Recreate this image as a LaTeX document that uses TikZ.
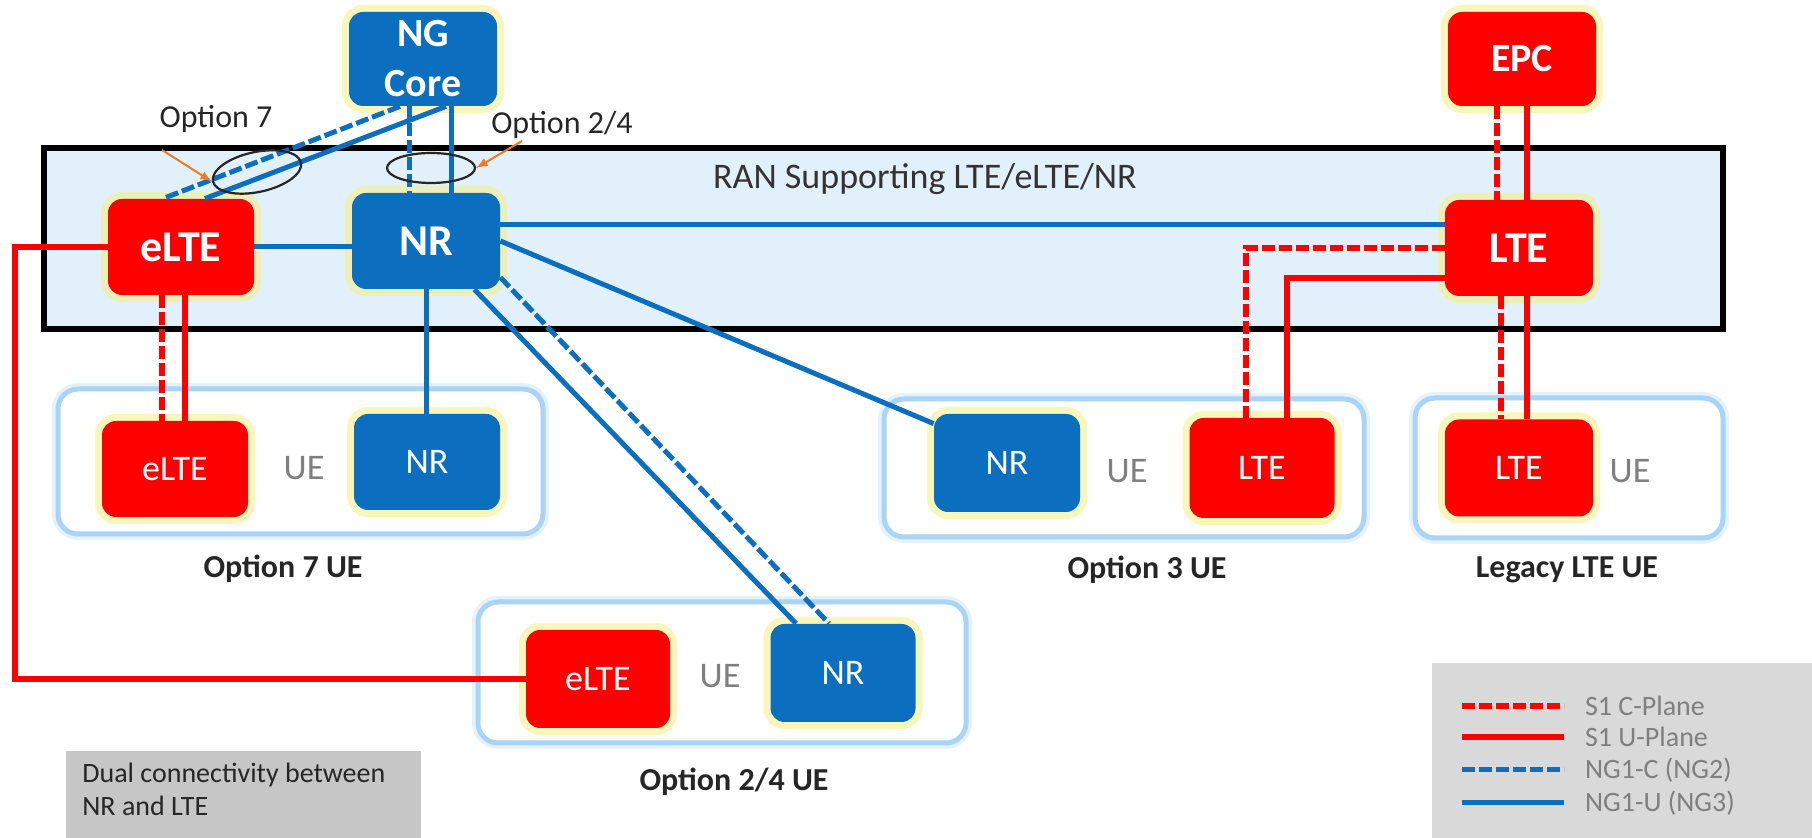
\documentclass[tikz,border=0pt]{standalone}
\usepackage{fontspec}
\setmainfont{Carlito}
\usepackage{tikz}
\usetikzlibrary{shapes.geometric}

\definecolor{lteRed}{HTML}{FF0000}
\definecolor{nrBlue}{HTML}{0B6EBE}
\definecolor{ranFill}{HTML}{E2F0FB}
\definecolor{ueRim}{HTML}{A9D4F6}
\definecolor{glowYellow}{HTML}{F4F08C}
\definecolor{labelGray}{HTML}{7F7F7F}
\definecolor{noteGray}{HTML}{C6C6C6}
\definecolor{legendGray}{HTML}{D9D9D9}
\definecolor{arrowOrange}{HTML}{F07A22}

\begin{document}
\begin{tikzpicture}[x=0.5pt,y=-0.5pt,
	netbox/.style={rounded corners=7pt, text=white, inner sep=0pt, align=center,
		preaction={draw=glowYellow, line width=7pt, opacity=0.6}},
	ltebox/.style={netbox, fill=lteRed},
	nrbox/.style={netbox, fill=nrBlue},
	ranfont/.style={font=\fontsize{22}{26}\selectfont\bfseries},
	uefont/.style={font=\fontsize{18}{22}\selectfont},
	uegroup/.style={draw=ueRim, line width=2.5pt, fill=white, rounded corners=10pt,
		preaction={draw=ueRim!50, line width=6pt, opacity=0.6}},
	uetag/.style={text=labelGray, font=\fontsize{18}{22}\selectfont},
	caption/.style={text=black!85, font=\fontsize{16}{19}\selectfont\bfseries},
	s1c/.style={lteRed, line width=3pt, dash pattern=on 6.5pt off 2pt},
	s1u/.style={lteRed, line width=3pt},
	ngc/.style={nrBlue, line width=2.5pt, dash pattern=on 6.5pt off 2pt},
	ngu/.style={nrBlue, line width=2.5pt},
	ring/.style={draw=black!85, line width=1.1pt, ellipse, inner sep=0pt},
	pointer/.style={arrowOrange, line width=1pt, -latex}
]
	\clip (0,0) rectangle (1812,838);
	%\draw[help lines] (0,0) grid[step=100] (1812,838);
	% RAN area
	\draw[fill=ranFill, line width=3pt] (44,148) rectangle (1723,329);
	\node[text=black!80, font=\fontsize{18}{22}\selectfont] (rantitle) at (925,179) {RAN Supporting LTE/eLTE/NR};

	% core nodes
	\node[nrbox, minimum width=74pt, minimum height=47pt, font=\fontsize{20}{25}\selectfont\bfseries] (ngcore) at (423,59) {NG\\Core};
	\node[ltebox, minimum width=74pt, minimum height=47pt, font=\fontsize{20}{25}\selectfont\bfseries] (epc) at (1522,59) {EPC};

	% RAN nodes
	\node[ltebox, ranfont, minimum width=73pt, minimum height=48pt] (ranelte) at (181,247) {eLTE};
	\node[nrbox, ranfont, minimum width=74pt, minimum height=48pt] (rannr) at (426,241) {NR};
	\node[ltebox, ranfont, minimum width=74pt, minimum height=48pt] (ranlte) at (1519,248) {LTE};

	% UEs
	\draw[uegroup] (58,389) rectangle (543,534);
	\node[ltebox, uefont, minimum width=73pt, minimum height=48pt] (uelte7) at (175,469) {eLTE};
	\node[nrbox, uefont, minimum width=73pt, minimum height=48pt] (uenr7) at (427,462) {NR};
	\node[uetag] (ue7) at (304,468) {UE};
	\node[caption] (cap7) at (283,569) {Option 7 UE};

	\draw[uegroup] (884,399) rectangle (1364,537);
	\node[nrbox, uefont, minimum width=73pt, minimum height=49pt] (uenr3) at (1007,463) {NR};
	\node[ltebox, uefont, minimum width=72.5pt, minimum height=50pt] (uelte3) at (1262,468) {LTE};
	\node[uetag] (ue3) at (1127,471) {UE};
	\node[caption] (cap3) at (1147,570) {Option 3 UE};

	\draw[uegroup] (1415,398) rectangle (1723,538);
	\node[ltebox, uefont, minimum width=74pt, minimum height=48.5pt] (uelteL) at (1519,468) {LTE};
	\node[uetag] (ueL) at (1630,471) {UE};
	\node[caption] (capL) at (1567,570) {Legacy LTE UE};

	\draw[uegroup] (478,602) rectangle (966,743);
	\node[ltebox, uefont, minimum width=72pt, minimum height=49pt] (uelte24) at (598,679) {eLTE};
	\node[nrbox, uefont, minimum width=72.5pt, minimum height=49pt] (uenr24) at (843,673) {NR};
	\node[uetag] (ue24) at (720,676) {UE};
	\node[caption] (cap24) at (734,782) {Option 2/4 UE};

	% core links
	\draw[ngc] ([xshift=-7pt]ngcore.south) -- ([xshift=-7pt]ngcore.south |- rannr.north);
	\draw[ngu] ([xshift=14pt]ngcore.south) -- ([xshift=14pt]ngcore.south |- rannr.north);
	\draw[ngc] ([xshift=-11.5pt]ngcore.south) -- ([xshift=-9pt]ranelte.north);
	\draw[ngu] ([xshift=11.5pt]ngcore.south) -- ([xshift=12pt]ranelte.north);
	\draw[s1c] ([xshift=-12.5pt]epc.south) -- ([xshift=-12.5pt]epc.south |- ranlte.north);
	\draw[s1u] ([xshift=2.5pt]epc.south) -- ([xshift=2.5pt]epc.south |- ranlte.north);

	% RAN links
	\draw[ngu] (ranelte.east) -- (ranelte.east -| rannr.west);
	\draw[ngu] ([yshift=8pt]rannr.east) -- ([yshift=8pt]rannr.east -| ranlte.west);

	% radio links
	\draw[s1c] ([xshift=-9.5pt]ranelte.south) -- ([xshift=-9.5pt]ranelte.south |- uelte7.north);
	\draw[s1u] ([xshift=2pt]ranelte.south) -- ([xshift=2pt]ranelte.south |- uelte7.north);
	\draw[ngu] (rannr.south) -- (rannr.south |- uenr7.north);
	\draw[ngu] (rannr.east) -- ([yshift=-5pt]uenr3.north west);
	\draw[ngu] ([xshift=-13pt]rannr.south east) -- ([xshift=13pt]uenr24.north west);
	\draw[ngc] ([yshift=6pt]rannr.south east) -- ([xshift=29.5pt]uenr24.north west);
	\draw[s1c] (ranlte.west) -| ([xshift=-8pt]uelte3.north);
	\draw[s1u] ([yshift=-15pt]ranlte.west) -| ([xshift=12.5pt]uelte3.north);
	\draw[s1c] ([xshift=-9pt]ranlte.south) -- ([xshift=-9pt]ranlte.south |- uelteL.north);
	\draw[s1u] ([xshift=4pt]ranlte.south) -- ([xshift=4pt]ranlte.south |- uelteL.north);
	\coordinate (loopcorner) at (15,679);
	\draw[s1u] (ranelte.west) -| (loopcorner) -- (uelte24.west);

	% option rings
	\node[ring, rotate=12, minimum width=45pt, minimum height=20pt] (opt7ring) at (257,172) {};
	\node[ring, minimum width=44pt, minimum height=15pt] (opt24ring) at (431,168) {};
	\node[text=black!85, font=\fontsize{16}{19}\selectfont] (opt7) at (216,119) {Option 7};
	\node[text=black!85, font=\fontsize{16}{19}\selectfont] (opt24) at (562,125) {Option 2/4};
	\coordinate (opt7tail) at (162,150);
	\coordinate (opt24tail) at (522,141);
	\draw[pointer] (opt7tail) -- (opt7ring.west);
	\draw[pointer] (opt24tail) -- (opt24ring.east);

	% note and legend
	\fill[noteGray] (66,751) rectangle (421,850);
	\node[anchor=north west, align=left, inner xsep=8pt, inner ysep=6pt, text=black!85,
		font=\fontsize{14}{16.5}\selectfont] (note) at (66,751) {Dual connectivity between\\NR and LTE};
	\node[anchor=north west, fill=legendGray, minimum width=190pt, minimum height=92pt, inner sep=0pt] (legend) at (1432,663) {};
	\node[anchor=west, text=labelGray, font=\fontsize{14}{16}\selectfont] (legc1) at (1578,706) {S1 C-Plane};
	\node[anchor=west, text=labelGray, font=\fontsize{14}{16}\selectfont] (legu1) at (1578,737) {S1 U-Plane};
	\node[anchor=west, text=labelGray, font=\fontsize{14}{16}\selectfont] (legc2) at (1578,770) {NG1-C (NG2)};
	\node[anchor=west, text=labelGray, font=\fontsize{14}{16}\selectfont] (legu2) at (1578,803) {NG1-U (NG3)};
	\draw[s1c] ([xshift=-58pt]legc1.west) -- ([xshift=-7pt]legc1.west);
	\draw[s1u] ([xshift=-58pt]legu1.west) -- ([xshift=-7pt]legu1.west);
	\draw[ngc] ([xshift=-58pt]legc2.west) -- ([xshift=-7pt]legc2.west);
	\draw[ngu] ([xshift=-58pt]legu2.west) -- ([xshift=-7pt]legu2.west);
\end{tikzpicture}
\end{document}
